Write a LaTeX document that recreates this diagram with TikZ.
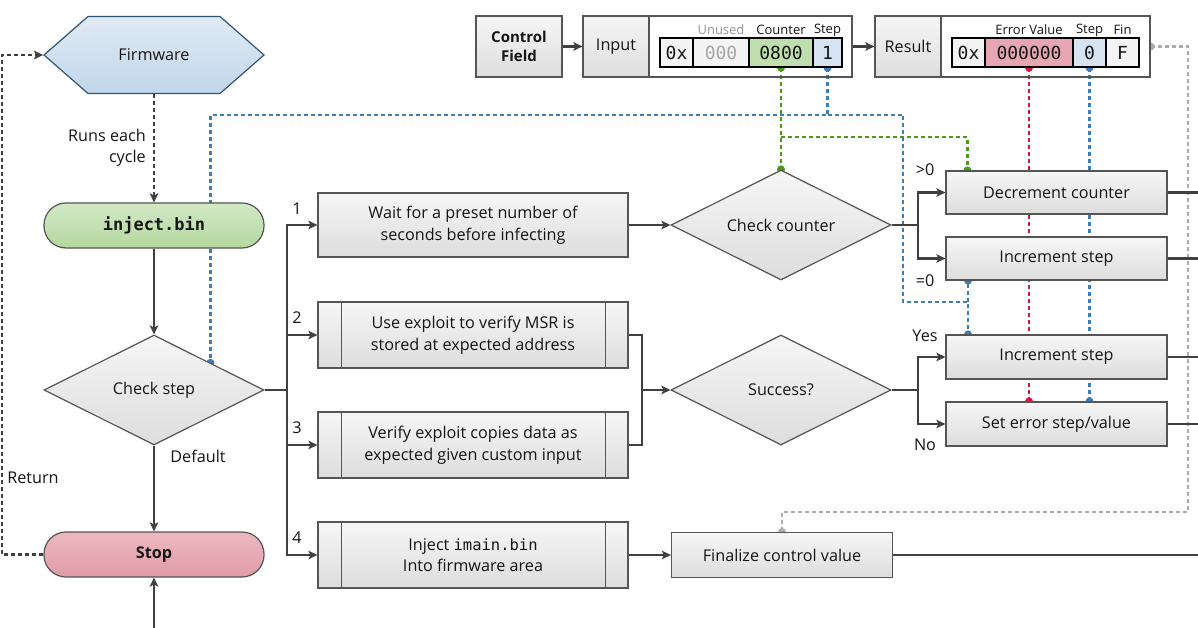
\documentclass[tikz,border=0pt]{standalone}
\usepackage{fontspec}
\setmainfont{Open Sans}
\setmonofont{DejaVu Sans Mono}
\usetikzlibrary{shapes.geometric,shapes.symbols,arrows.meta,calc}
\definecolor{lineC}{HTML}{404040}
\definecolor{bordC}{HTML}{555555}
\definecolor{gT}{HTML}{F6F6F6}
\definecolor{gB}{HTML}{DDDDDD}
\definecolor{hexT}{HTML}{E0EAF4}
\definecolor{hexB}{HTML}{C2D6EA}
\definecolor{hexD}{HTML}{2F5577}
\definecolor{grT}{HTML}{D3E9C6}
\definecolor{grB}{HTML}{B4D79E}
\definecolor{pkT}{HTML}{EDB8C1}
\definecolor{pkB}{HTML}{E09CA8}
\definecolor{cellG}{HTML}{C0DFAE}
\definecolor{cellB}{HTML}{D6E3F0}
\definecolor{cellP}{HTML}{E6A7B2}
\definecolor{cellW}{HTML}{F4F4F4}
\definecolor{dBlue}{HTML}{3F7DB5}
\definecolor{dGreen}{HTML}{4A9A1C}
\definecolor{dRed}{HTML}{D9163F}
\definecolor{dGray}{HTML}{ABABAB}
\definecolor{txt}{HTML}{151515}
\newcommand\mainfs{\fontsize{16.2}{21.5}\selectfont}
\newcommand\lblfs{\fontsize{13}{15}\selectfont}
\newcommand\cellfs{\fontsize{18}{19}\selectfont\ttfamily}
\pgfdeclarelayer{bgA}
\pgfdeclarelayer{bgB}
\pgfsetlayers{bgA,bgB,main}
\tikzset{
  base/.style={draw=bordC, line width=1.2pt, inner sep=0pt, align=center, font=\mainfs, text=txt},
  gbox/.style={base, top color=gT, bottom color=gB},
  proc/.style={gbox, minimum width=310pt, minimum height=66pt},
  subproc/.style={proc, path picture={
      \draw[bordC, line width=1pt]
        ([xshift=23pt]path picture bounding box.north west) -- ([xshift=23pt]path picture bounding box.south west)
        ([xshift=-23pt]path picture bounding box.north east) -- ([xshift=-23pt]path picture bounding box.south east);}},
  sbox/.style={gbox, minimum width=221pt, minimum height=44pt},
  dia/.style={gbox, diamond, aspect=2, minimum width=220pt, minimum height=110pt},
  pill/.style={base, rounded corners=22pt, minimum width=220pt, minimum height=45pt},
  hexa/.style={base, draw=hexD, top color=hexT, bottom color=hexB, signal, signal to=west and east,
      signal pointer angle=82.4, minimum width=220pt, minimum height=77pt},
  outer/.style={draw=bordC, line width=1.2pt, minimum height=61pt, inner sep=0pt},
  lcell/.style={gbox, minimum width=66pt, minimum height=61pt},
  cell/.style={draw=black, line width=1.4pt, minimum height=29pt, inner sep=0pt, font=\cellfs, text=txt},
  flbl/.style={font=\lblfs, text=txt, inner sep=0pt},
  lbl/.style={font=\mainfs, text=txt, inner sep=0pt},
  line/.style={draw=lineC, line width=2.1pt},
  flow/.style={line, -{Stealth[length=9pt,width=8.5pt,inset=2pt]}},
  dashflow/.style={flow, line width=2.1pt, dash pattern=on 4pt off 3pt},
  ddash/.style={line width=2.3pt, dash pattern=on 4pt off 3pt},
}
\begin{document}
\begin{tikzpicture}[x=1pt,y=-1pt]
\useasboundingbox (0,0) rectangle (1198,628);
\begin{pgfonlayer}{bgA}
\fill[white] (0,0) rectangle (1198,628);
\end{pgfonlayer}

% ---- left column
\node[hexa] (fw) at (154,55) {Firmware};
\node[pill, top color=grT, bottom color=grB, font=\fontsize{17}{19}\selectfont\ttfamily\bfseries] (inj) at (154,225.5) {inject.bin};
\node[dia] (cs) at (154,390) {Check step};
\node[pill, top color=pkT, bottom color=pkB, font=\mainfs\bfseries] (stop) at (154,554.5) {Stop};
\node[lbl, anchor=east, align=right] (runs) at (146,148) {Runs each\\cycle};
\node[lbl] (deflt) at (198,456) {Default};
\node[lbl] (ret) at (33,478) {Return};

% ---- middle boxes
\node[proc, minimum height=64pt] (b1) at (473,225) {Wait for a preset number of\\seconds before infecting};
\node[subproc] (b2) at (473,335) {Use exploit to verify MSR is\\stored at expected address};
\node[subproc] (b3) at (473,445) {Verify exploit copies data as\\expected given custom input};
\node[subproc] (b4) at (473,555) {Inject {\fontsize{15.5}{18}\selectfont\ttfamily imain.bin}\\Into firmware area};
\node[lbl] (n1) at (297,209) {1};
\node[lbl] (n2) at (297,318) {2};
\node[lbl] (n3) at (297,428) {3};
\node[lbl] (n4) at (297,538) {4};

\node[dia] (cc) at (781,225) {Check counter};
\node[dia] (su) at (781,390) {Success?};
\node[sbox, minimum height=45pt] (fin) at (782,555) {Finalize control value};

% ---- right boxes
\node[sbox, minimum height=43pt] (dec) at (1056.5,192.5) {Decrement counter};
\node[sbox, minimum height=43pt] (inc1) at (1056.5,258.5) {Increment step};
\node[sbox] (inc2) at (1056.5,357) {Increment step};
\node[sbox] (se) at (1056.5,424) {Set error step/value};
\node[lbl] (gt) at (925,170) {>0};
\node[lbl] (eq) at (925,281) {=0};
\node[lbl] (yes) at (925,336) {Yes};
\node[lbl] (no) at (925,445) {No};

% ---- top control field
\node[gbox, font=\fontsize{15}{19.5}\selectfont\bfseries, minimum width=86pt, minimum height=61pt] (cf) at (519,46.5) {Control\\Field};
\node[outer, minimum width=269pt] (inp) at (717.5,46.5) {};
\node[lcell] (inpl) at (616,46.5) {Input};
\node[cell, fill=cellW, minimum width=33pt] (i0x) at (676.5,52.5) {0x};
\node[cell, fill=cellW, minimum width=56pt, text=black!35] (iun) at (721,52.5) {000};
\node[cell, fill=cellG, minimum width=64pt] (icnt) at (781,52.5) {0800};
\node[cell, fill=cellB, minimum width=29pt] (istp) at (827.5,52.5) {1};
\node[flbl, text=black!42] (lun) at (721,30) {Unused};
\node[flbl] (lcnt) at (781,30) {Counter};
\node[flbl] (lstp) at (827.5,30) {Step};

\node[outer, minimum width=275pt] (res) at (1012.5,46.5) {};
\node[lcell] (resl) at (908,46.5) {Result};
\node[cell, fill=cellW, minimum width=33pt] (r0x) at (968.5,52.5) {0x};
\node[cell, fill=cellP, minimum width=88pt] (rev) at (1029,52.5) {000000};
\node[cell, fill=cellB, minimum width=33pt] (rstp) at (1089.5,52.5) {0};
\node[cell, fill=cellW, minimum width=33pt] (rfin) at (1122.5,52.5) {F};
\node[flbl] (lev) at (1029,30) {Error Value};
\node[flbl] (lrs) at (1089.5,30) {Step};
\node[flbl] (lfin) at (1122.5,30) {Fin};

\begin{pgfonlayer}{bgA}
\fill[white] (inp.north west) rectangle (inp.south east);
\fill[white] (res.north west) rectangle (res.south east);
\end{pgfonlayer}

% ---- coordinates
\coordinate (re) at (1198,0);
\coordinate (retc) at (2,554.5);
\coordinate (bot) at (154,628);
\coordinate (bus) at (287,390);
\coordinate (join) at (642,390);
\coordinate (cj) at (918,225);
\coordinate (sj) at (918,390);

% ---- solid connectors
\draw[dashflow] (fw.south) -- (inj.north);
\draw[flow] (inj.south) -- (cs.north);
\draw[flow] (cs.south) -- (stop.north);
\draw[flow] (bot) -- (stop.south);
\draw[dashflow] (stop.west) -- (retc) |- (fw.west);
\draw[line] (cs.east) -- (bus);
\draw[flow] (bus) |- (b1.west);
\draw[flow] (bus) |- (b2.west);
\draw[flow] (bus) |- (b3.west);
\draw[flow] (bus) |- (b4.west);
\draw[flow] (b1.east) -- (cc.west);
\draw[line] (b2.east) -| (join);
\draw[line] (b3.east) -| (join);
\draw[flow] (join) -- (su.west);
\draw[flow] (b4.east) -- (fin.west);
\draw[line] (cc.east) -- (cj);
\draw[flow] (cj) |- (dec.west);
\draw[flow] (cj) |- (inc1.west);
\draw[line] (su.east) -- (sj);
\draw[flow] (sj) |- (inc2.west);
\draw[flow] (sj) |- (se.west);
\foreach \n in {dec,inc1,inc2,se,fin} \draw[line] (\n.east) -- (\n.east -| re);
\draw[flow] (cf.east) -- (inpl.west);
\draw[flow] (inp.east) -- (resl.west);

% ---- dashed data connectors
\coordinate (by) at (827.5,115);
\coordinate (bx) at (903,302);
\coordinate (bz) at (968,302);
\coordinate (gy) at (781,137);
\coordinate (dtop) at ($(dec.north west)+(22,0)$);
\coordinate (csdot) at ($(cs.north)!0.51!(cs.east)$);
\coordinate (gry) at (1188,512);
\begin{pgfonlayer}{bgB}
\draw[ddash, dGreen] (icnt.south) -- (cc.north);
\draw[ddash, dGreen] (gy) -| (dtop);
\fill[dGreen] (icnt.south) circle (4pt) (cc.north) circle (4pt) (dtop) circle (4pt);
\draw[ddash, dBlue] (istp.south) -- (by) -| (csdot);
\draw[ddash, dBlue] (by) -| (bx) -- (bz) -- (inc2.north -| bz);
\draw[ddash, dBlue] (bz) -- (inc1.south -| bz);
\fill[dBlue] (istp.south) circle (4pt) (csdot) circle (4pt) (inc2.north -| bz) circle (4pt) (inc1.south -| bz) circle (4pt);
\draw[ddash, dRed] (rev.south) -- (se.north -| rev.south);
\fill[dRed] (rev.south) circle (4pt) (se.north -| rev.south) circle (4pt);
\draw[ddash, dBlue] (rstp.south) -- (se.north -| rstp.south);
\fill[dBlue] (rstp.south) circle (4pt) (se.north -| rstp.south) circle (4pt);
\draw[ddash, dGray] (res.east) -| (gry) -| (fin.north);
\fill[dGray] (fin.north) circle (4pt);
\begin{scope}
\clip (res.north east) rectangle ([xshift=6pt]res.south east);
\fill[dGray] (res.east) circle (4pt);
\end{scope}
\end{pgfonlayer}
\end{tikzpicture}
\end{document}
